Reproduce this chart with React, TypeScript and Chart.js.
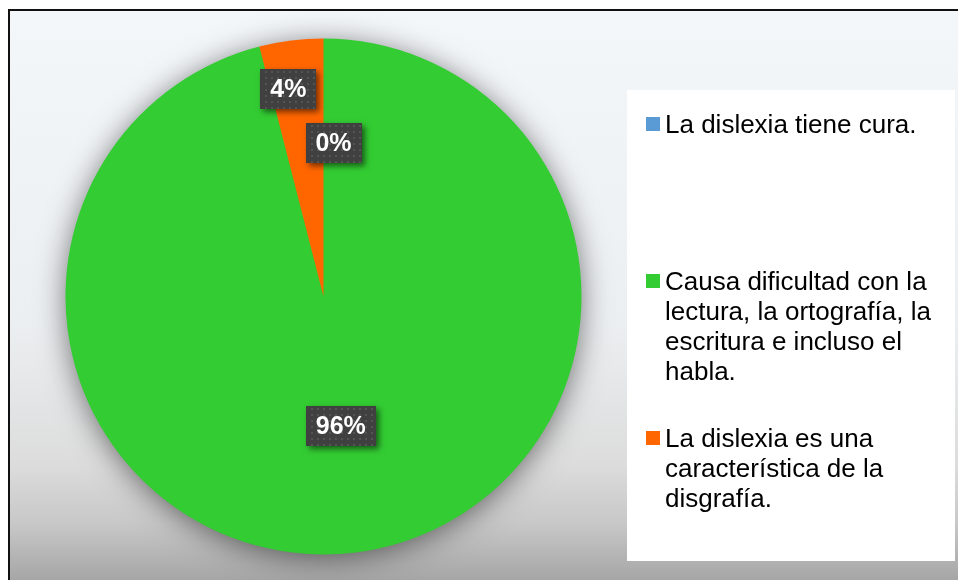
import React, { useEffect, useRef } from "react";
import { Chart, registerables } from "chart.js";
Chart.register(...registerables);

const categories = [
  "La dislexia tiene cura.",
  "Causa dificultad con la lectura, la ortografía, la escritura e incluso el habla.",
  "La dislexia es una característica de la disgrafía.",
];
const percentages = [0, 96, 4];
const percentLabels = ["0%", "96%", "4%"];
const sliceColors = ["#5b9bd5", "#33cc33", "#ff6600"];

// label placement (fraction of radius along slice mid-angle, horizontal nudge)
const labelRadius = [0.596, 0.505, 0.81];
const labelShiftX = [10, 1, -9];

const FONT = "'Liberation Sans', Arial, sans-serif";

function wrap(ctx: CanvasRenderingContext2D, text: string, maxW: number): string[] {
  const words = text.split(" ");
  const lines: string[] = [];
  let cur = "";
  for (const w of words) {
    const t = cur ? cur + " " + w : w;
    if (ctx.measureText(t).width > maxW && cur) {
      lines.push(cur);
      cur = w;
    } else cur = t;
  }
  if (cur) lines.push(cur);
  return lines;
}

const decorPlugin = {
  id: "decor",
  beforeDraw(chart: any) {
    const ctx: CanvasRenderingContext2D = chart.ctx;
    const W = chart.width;
    const H = chart.height;
    ctx.save();
    const g = ctx.createLinearGradient(0, 0, 0, H);
    g.addColorStop(0, "#f4f7fa");
    g.addColorStop(0.55, "#eceff1");
    g.addColorStop(0.8, "#dcdcdc");
    g.addColorStop(0.9, "#c8c8c8");
    g.addColorStop(1, "#a6a6a6");
    ctx.fillStyle = g;
    ctx.fillRect(0, 1, W, H);
    ctx.fillStyle = "#111";
    ctx.fillRect(0, 1, W, 2);
    ctx.fillRect(0, 1, 2, H);

    // legend box
    ctx.fillStyle = "#ffffff";
    ctx.fillRect(619, 82, 328, 471);
    ctx.font = "26px " + FONT;
    ctx.textBaseline = "alphabetic";
    ctx.textAlign = "left";
    categories.forEach((cat, i) => {
      const base = 125 + i * 157;
      ctx.fillStyle = sliceColors[i];
      ctx.fillRect(638, base - 16, 14, 14);
      ctx.fillStyle = "#000000";
      const lines = wrap(ctx, cat, 285);
      lines.forEach((ln, j) => ctx.fillText(ln, 657, base + j * 30));
    });
    ctx.restore();
  },
  beforeDatasetsDraw(chart: any) {
    const ctx: CanvasRenderingContext2D = chart.ctx;
    const meta = chart.getDatasetMeta(0);
    const arc = meta.data[1];
    if (!arc) return;
    const p = arc.getProps(["x", "y", "outerRadius"], true);
    ctx.save();
    ctx.shadowColor = "rgba(0,0,0,0.55)";
    ctx.shadowBlur = 30;
    ctx.shadowOffsetX = 0;
    ctx.shadowOffsetY = 4;
    ctx.fillStyle = "#33cc33";
    ctx.beginPath();
    ctx.arc(p.x, p.y, p.outerRadius - 1, 0, Math.PI * 2);
    ctx.fill();
    ctx.restore();
  },
  afterDatasetsDraw(chart: any) {
    const ctx: CanvasRenderingContext2D = chart.ctx;
    const meta = chart.getDatasetMeta(0);
    ctx.save();
    ctx.font = "bold 25px " + FONT;
    meta.data.forEach((arc: any, i: number) => {
      const p = arc.getProps(["x", "y", "startAngle", "endAngle", "outerRadius"], true);
      const mid = (p.startAngle + p.endAngle) / 2;
      const r = p.outerRadius * labelRadius[i];
      const cx = p.x + Math.cos(mid) * r + labelShiftX[i];
      const cy = p.y + Math.sin(mid) * r;
      const txt = percentLabels[i];
      const tw = ctx.measureText(txt).width;
      const bw = Math.round(tw + 20);
      const bh = 40;
      const bx = Math.round(cx - bw / 2);
      const by = Math.round(cy - bh / 2);
      ctx.save();
      ctx.shadowColor = "rgba(0,0,0,0.55)";
      ctx.shadowBlur = 6;
      ctx.shadowOffsetX = 3;
      ctx.shadowOffsetY = 3;
      ctx.fillStyle = "#404040";
      ctx.fillRect(bx, by, bw, bh);
      ctx.restore();
      ctx.save();
      ctx.beginPath();
      ctx.rect(bx, by, bw, bh);
      ctx.clip();
      ctx.fillStyle = "#545454";
      for (let yy = by + 2; yy < by + bh; yy += 6) {
        for (let xx = bx + 2 + (((yy - by) / 6) % 2 ? 3 : 0); xx < bx + bw; xx += 6) {
          ctx.fillRect(xx, yy, 2, 2);
        }
      }
      ctx.restore();
      ctx.fillStyle = "#ffffff";
      ctx.textAlign = "center";
      ctx.textBaseline = "middle";
      ctx.fillText(txt, cx, cy + 1);
    });
    ctx.restore();
  },
};

export default function App() {
  const ref = useRef<HTMLCanvasElement>(null);
  useEffect(() => {
    document.documentElement.style.overflow = "hidden";
    document.body.style.overflow = "hidden";
    if (!ref.current) return;
    const chart = new Chart(ref.current, {
      type: "pie",
      data: {
        labels: categories,
        datasets: [
          {
            data: percentages,
            backgroundColor: sliceColors,
            borderWidth: 0,
            hoverOffset: 0,
          },
        ],
      },
      options: {
        responsive: false,
        animation: false,
        layout: { padding: { left: 57.5, right: 376.5, top: 30.5, bottom: 25.5 } },
        plugins: {
          legend: { display: false },
          tooltip: { enabled: false },
        },
        events: [],
      },
      plugins: [decorPlugin],
    });
    return () => chart.destroy();
  }, []);
  return (
    <div style={{ position: "fixed", left: 8, top: 8, width: 950, height: 572, overflow: "hidden" }}>
      <canvas ref={ref} width={950} height={572} style={{ display: "block" }} />
    </div>
  );
}
